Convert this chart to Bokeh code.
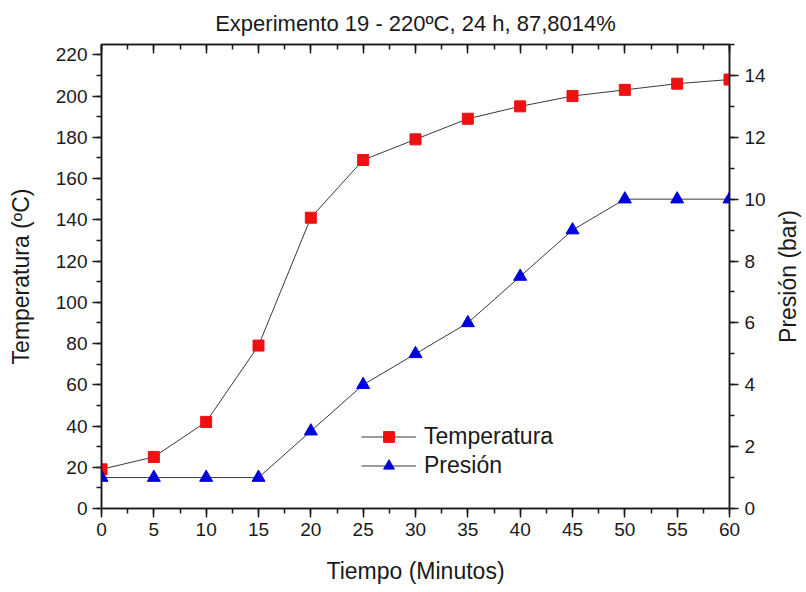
from bokeh.plotting import figure
from bokeh.layouts import row
from bokeh.models import LinearAxis, Range1d, Legend, LegendItem, FixedTicker
from bokeh.embed import file_html
from bokeh.resources import INLINE

# Experiment 19 readings
tiempo = [0, 5, 10, 15, 20, 25, 30, 35, 40, 45, 50, 55, 60]
temperatura = [19, 25, 42, 79, 141, 169, 179, 189, 195, 200, 203, 206, 208]
presion = [1, 1, 1, 1, 2.5, 4, 5, 6, 7.5, 9, 10, 10, 10]

x_ticks = [0, 5, 10, 15, 20, 25, 30, 35, 40, 45, 50, 55, 60]
temp_ticks = [0, 20, 40, 60, 80, 100, 120, 140, 160, 180, 200, 220]
pres_ticks = [0, 2, 4, 6, 8, 10, 12, 14]

TITLE = "Experimento 19 - 220ºC, 24 h, 87,8014%"
FONT = "Liberation Sans"
INK = "#1a1a1a"

p = figure(width=771, height=592, output_backend="svg", toolbar_location=None,
           x_range=Range1d(0, 60), y_range=Range1d(0, 225),
           min_border_left=101, min_border_right=42,
           min_border_top=44, min_border_bottom=84,
           x_axis_location=None, y_axis_location=None)
p.extra_y_ranges = {"pres": Range1d(0, 15)}

p.grid.visible = False
p.outline_line_color = INK
p.outline_line_width = 1.5
p.background_fill_color = "white"
p.border_fill_color = "white"

p.title.text = TITLE
p.title.align = "center"
p.title.text_font = FONT
p.title.text_font_size = "22px"
p.title.text_font_style = "normal"
p.title.text_color = INK
p.title.standoff = 17


def style_axis(ax, ticks, minor, label=None, standoff=6, label_standoff=10,
               inward=False):
    ax.ticker = FixedTicker(ticks=ticks, minor_ticks=minor)
    ax.axis_line_color = INK
    ax.axis_line_width = 1.5
    ax.major_tick_line_color = INK
    ax.minor_tick_line_color = INK
    ax.major_tick_line_width = 1.5
    ax.minor_tick_line_width = 1.5
    if inward:
        ax.major_tick_in, ax.major_tick_out = 9, 0
        ax.minor_tick_in, ax.minor_tick_out = 5, 0
    else:
        ax.major_tick_in, ax.major_tick_out = 0, 9
        ax.minor_tick_in, ax.minor_tick_out = 0, 5
    ax.major_label_text_font = FONT
    ax.major_label_text_font_size = "19px"
    ax.major_label_text_color = INK
    ax.major_label_standoff = standoff
    if label is not None:
        ax.axis_label = label
        ax.axis_label_text_font = FONT
        ax.axis_label_text_font_size = "23px"
        ax.axis_label_text_font_style = "normal"
        ax.axis_label_text_color = INK
        ax.axis_label_standoff = label_standoff


x_minor = [i * 2.5 for i in range(25)]
temp_minor = list(range(0, 230, 10))
pres_minor = list(range(0, 16))

bottom = LinearAxis()
style_axis(bottom, x_ticks, x_minor, "Tiempo (Minutos)", standoff=5, label_standoff=19)
p.add_layout(bottom, "below")

left = LinearAxis()
style_axis(left, temp_ticks, temp_minor, "Temperatura (ºC)", standoff=5, label_standoff=19)
p.add_layout(left, "left")

right = LinearAxis(y_range_name="pres")
style_axis(right, pres_ticks, pres_minor, standoff=6)
p.add_layout(right, "right")

top = LinearAxis()
style_axis(top, x_ticks, x_minor, inward=True)
top.major_label_text_font_size = "0px"
top.major_label_standoff = 0
p.add_layout(top, "above")

line_col = "#3a3a3a"
t_line = p.line(tiempo, temperatura, line_color=line_col, line_width=1)
t_pts = p.scatter(tiempo, temperatura, marker="square", size=11,
                  fill_color="#ee1111", line_color="#ee1111")
p_line = p.line(tiempo, presion, line_color=line_col, line_width=1, y_range_name="pres")
p_pts = p.scatter(tiempo, presion, marker="triangle", size=13,
                  fill_color="#0000dd", line_color="#0000dd", y_range_name="pres")

legend = Legend(items=[
    LegendItem(label="Temperatura", renderers=[t_line, t_pts]),
    LegendItem(label="Presión", renderers=[p_line, p_pts]),
], location=(260, 29))
legend.border_line_color = None
legend.background_fill_alpha = 0
legend.label_text_font = FONT
legend.label_text_font_size = "23px"
legend.label_text_color = INK
legend.glyph_width = 55
legend.glyph_height = 27
legend.spacing = 2
legend.padding = 4
legend.label_standoff = 8
p.add_layout(legend, "center")

# Narrow strip on the right that carries the pressure axis title,
# read bottom-to-top like the temperature title
strip = figure(width=35, height=592, output_backend="svg", toolbar_location=None,
               x_range=Range1d(0, 1), y_range=Range1d(0, 1),
               min_border_left=0, min_border_right=0,
               min_border_top=44, min_border_bottom=50,
               x_axis_location=None, y_axis_location=None)
strip.grid.visible = False
strip.outline_line_color = None
strip.background_fill_color = "white"
strip.border_fill_color = "white"
strip_axis = LinearAxis(ticker=FixedTicker(ticks=[]))
strip_axis.axis_line_color = None
strip_axis.major_tick_line_color = None
strip_axis.minor_tick_line_color = None
strip_axis.major_tick_out = 0
strip_axis.minor_tick_out = 0
strip_axis.major_label_text_font_size = "0px"
strip_axis.major_label_standoff = 0
strip_axis.axis_label = "Presión (bar)"
strip_axis.axis_label_text_font = FONT
strip_axis.axis_label_text_font_size = "23px"
strip_axis.axis_label_text_font_style = "normal"
strip_axis.axis_label_text_color = INK
strip_axis.axis_label_standoff = 0
strip.add_layout(strip_axis, "left")

page = row(p, strip, spacing=0)
open("out.html", "w").write(file_html(page, INLINE))
